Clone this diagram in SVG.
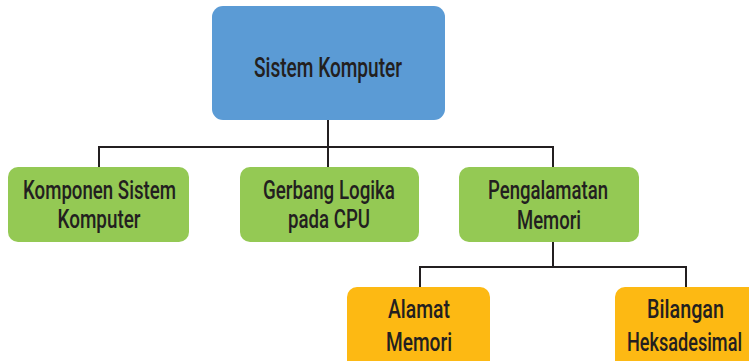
<svg xmlns="http://www.w3.org/2000/svg" width="749" height="361" viewBox="0 0 749 361">
<style>
text{font-family:Roboto,"Liberation Sans Narrow","DejaVu Sans Condensed",sans-serif;font-weight:500;fill:#231f20;text-anchor:middle}
.t{font-size:28px}
.n{font-size:25.5px}
.blue{fill:#5b9bd5}
.green{fill:#94c954}
.orange{fill:#fdb913}
.c{fill:none;stroke:#231f20;stroke-width:2}
</style>
<rect width="749" height="361" fill="#fff"/>
<g id="connectors" class="c">
<path d="M328,120V167M99,167V147H553V167"/>
<path d="M553,242V267M420,287V267H686V287"/>
</g>
<g id="sistem-komputer">
<rect class="blue" x="212" y="6" width="233" height="114" rx="11"/>
<text class="t" x="328" y="77" textLength="148" lengthAdjust="spacingAndGlyphs">Sistem Komputer</text>
</g>
<g id="komponen">
<rect class="green" x="8" y="167" width="181" height="75" rx="10"/>
<text class="n" x="99.5" y="199" textLength="153" lengthAdjust="spacingAndGlyphs">Komponen Sistem</text>
<text class="n" x="99" y="228" textLength="83" lengthAdjust="spacingAndGlyphs">Komputer</text>
</g>
<g id="gerbang">
<rect class="green" x="240" y="167" width="179" height="75" rx="10"/>
<text class="n" x="329" y="199" textLength="132" lengthAdjust="spacingAndGlyphs">Gerbang Logika</text>
<text class="n" x="329" y="228" textLength="82" lengthAdjust="spacingAndGlyphs">pada CPU</text>
</g>
<g id="pengalamatan">
<rect class="green" x="459" y="167" width="180" height="75" rx="10"/>
<text class="n" x="548" y="199" textLength="120" lengthAdjust="spacingAndGlyphs">Pengalamatan</text>
<text class="n" x="549" y="229" textLength="64" lengthAdjust="spacingAndGlyphs">Memori</text>
</g>
<g id="alamat">
<rect class="orange" x="347" y="287" width="143" height="90" rx="10"/>
<text class="n" x="419" y="318" textLength="62" lengthAdjust="spacingAndGlyphs">Alamat</text>
<text class="n" x="419" y="351" textLength="66" lengthAdjust="spacingAndGlyphs">Memori</text>
</g>
<g id="bilangan">
<rect class="orange" x="615" y="287" width="150" height="90" rx="10"/>
<text class="n" x="685.5" y="318" textLength="77" lengthAdjust="spacingAndGlyphs">Bilangan</text>
<text class="n" x="684.5" y="351" textLength="115" lengthAdjust="spacingAndGlyphs">Heksadesimal</text>
</g>
</svg>
